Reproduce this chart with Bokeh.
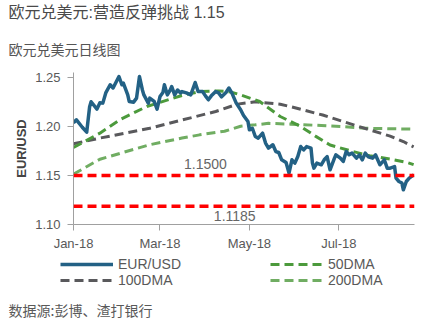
import pandas as pd
from bokeh.plotting import figure
from bokeh.layouts import column
from bokeh.models import (Range1d, FixedTicker, Label, Legend, LegendItem, Span, Title,
                          NumeralTickFormatter)
from bokeh.embed import file_html
from bokeh.resources import INLINE

# ---------------- data ----------------
eur_dates = ["2018-01-01", "2018-01-03", "2018-01-07", "2018-01-10", "2018-01-12", "2018-01-13",
             "2018-01-17", "2018-01-19", "2018-01-21", "2018-01-23", "2018-01-26", "2018-01-28",
             "2018-02-01", "2018-02-03", "2018-02-04", "2018-02-07", "2018-02-08", "2018-02-11",
             "2018-02-13", "2018-02-15", "2018-02-17", "2018-02-18", "2018-02-21", "2018-02-22",
             "2018-02-25", "2018-02-27", "2018-03-01", "2018-03-03", "2018-03-04", "2018-03-06",
             "2018-03-08", "2018-03-09", "2018-03-11", "2018-03-13", "2018-03-15", "2018-03-16",
             "2018-03-19", "2018-03-22", "2018-03-25", "2018-03-27", "2018-03-30", "2018-04-01",
             "2018-04-03", "2018-04-05", "2018-04-08", "2018-04-10", "2018-04-12", "2018-04-15",
             "2018-04-17", "2018-04-19", "2018-04-22", "2018-04-25", "2018-04-27", "2018-04-30",
             "2018-05-01", "2018-05-03", "2018-05-05", "2018-05-07", "2018-05-10", "2018-05-12",
             "2018-05-14", "2018-05-17", "2018-05-19", "2018-05-21", "2018-05-23", "2018-05-26",
             "2018-05-28", "2018-05-30", "2018-06-01", "2018-06-03", "2018-06-05", "2018-06-07",
             "2018-06-09", "2018-06-12", "2018-06-13", "2018-06-14", "2018-06-16", "2018-06-19",
             "2018-06-21", "2018-06-23", "2018-06-25", "2018-06-28", "2018-06-29", "2018-07-02",
             "2018-07-04", "2018-07-06", "2018-07-08", "2018-07-10", "2018-07-13", "2018-07-15",
             "2018-07-17", "2018-07-19", "2018-07-21", "2018-07-24", "2018-07-26", "2018-07-29",
             "2018-08-01", "2018-08-03", "2018-08-05", "2018-08-08", "2018-08-09", "2018-08-11",
             "2018-08-13", "2018-08-14", "2018-08-16", "2018-08-18", "2018-08-21"]
eur_values = [1.2035, 1.2066, 1.1990, 1.1940, 1.2200, 1.2250,
              1.2175, 1.2240, 1.2236, 1.2340, 1.2423, 1.2390,
              1.2507, 1.2423, 1.2440, 1.2320, 1.2253, 1.2246,
              1.2287, 1.2507, 1.2370, 1.2320, 1.2236, 1.2287,
              1.2253, 1.2175, 1.2303, 1.2344, 1.2423, 1.2320,
              1.2370, 1.2405, 1.2320, 1.2370, 1.2340, 1.2354,
              1.2340, 1.2320, 1.2446, 1.2354, 1.2354, 1.2310,
              1.2270, 1.2310, 1.2354, 1.2340, 1.2300, 1.2344,
              1.2390, 1.2340, 1.2236, 1.2168, 1.2110, 1.2049,
              1.1964, 1.1980, 1.1896, 1.1880, 1.1930, 1.1829,
              1.1778, 1.1812, 1.1743, 1.1733, 1.1659, 1.1631,
              1.1523, 1.1659, 1.1625, 1.1692, 1.1794, 1.1760,
              1.1794, 1.1778, 1.1625, 1.1574, 1.1625, 1.1608,
              1.1659, 1.1692, 1.1557, 1.1676, 1.1710, 1.1676,
              1.1642, 1.1743, 1.1710, 1.1727, 1.1676, 1.1710,
              1.1659, 1.1727, 1.1690, 1.1676, 1.1710, 1.1608,
              1.1659, 1.1574, 1.1574, 1.1590, 1.1473, 1.1438,
              1.1422, 1.1353, 1.1438, 1.1473, 1.1506]

dma50_dates = ["2018-01-01", "2018-01-19", "2018-02-02", "2018-02-20", "2018-03-16", "2018-03-28",
               "2018-04-10", "2018-04-18", "2018-04-25", "2018-05-08", "2018-05-22", "2018-06-05",
               "2018-06-15", "2018-06-25", "2018-07-09", "2018-07-22", "2018-08-05", "2018-08-17",
               "2018-08-21"]
dma50_values = [1.1784, 1.1930, 1.2070, 1.2202, 1.2314, 1.2354,
                1.2360, 1.2350, 1.2320, 1.2253, 1.2100, 1.1998,
                1.1900, 1.1810, 1.1750, 1.1700, 1.1666, 1.1630,
                1.1610]

dma100_dates = ["2018-01-01", "2018-01-19", "2018-02-22", "2018-03-15", "2018-04-08", "2018-04-23",
                "2018-05-05", "2018-05-22", "2018-05-29", "2018-06-20", "2018-07-13", "2018-08-05",
                "2018-08-14", "2018-08-21"]
dma100_values = [1.1822, 1.1880, 1.1980, 1.2060, 1.2151, 1.2226,
                 1.2250, 1.2225, 1.2200, 1.2115, 1.2005, 1.1900,
                 1.1845, 1.1790]

dma200_dates = ["2018-01-01", "2018-01-19", "2018-02-22", "2018-03-16", "2018-03-28", "2018-04-14",
                "2018-04-25", "2018-05-05", "2018-05-14", "2018-05-29", "2018-06-19", "2018-07-02",
                "2018-07-19", "2018-08-21"]
dma200_values = [1.1513, 1.1665, 1.1812, 1.1880, 1.1913, 1.1950,
                 1.2000, 1.2015, 1.2030, 1.2022, 1.2008, 1.1998,
                 1.1980, 1.1971]

level_values = [1.1500, 1.1185]
level_labels = ["1.1500", "1.1185"]
level_label_dates = ["2018-04-01", "2018-04-21"]
level_label_y = [1.1618, 1.1089]

x_tick_dates = ["2018-01-01", "2018-03-01", "2018-05-01", "2018-07-01"]
x_tick_labels = ["Jan-18", "Mar-18", "May-18", "Jul-18"]
y_ticks = [1.10, 1.15, 1.20, 1.25]

series_names = ["EUR/USD", "50DMA", "100DMA", "200DMA"]
series_colors = ["#236185", "#4c9a3c", "#59595c", "#70ad62"]

title_text = "欧元兑美元:营造反弹挑战 1.15"
subtitle_text = "欧元兑美元日线图"
source_text = "数据源:彭博、渣打银行"
y_label_text = "EUR/USD"

# ---------------- helpers ----------------
base = pd.Timestamp("2018-01-01")


def days(ds):
    return [(pd.Timestamp(d) - base).days for d in ds]


LAT = "'Liberation Sans', 'Noto Sans CJK SC'"
CJK = "'Noto Sans CJK SC'"
W = 424

# ---------------- main chart ----------------
p = figure(frame_width=341, frame_height=152, output_backend="svg", toolbar_location=None,
           x_range=Range1d(0, 232.6), y_range=Range1d(1.10, 1.2548),
           min_border_left=73, min_border_right=10, min_border_top=0, min_border_bottom=28)
p.outline_line_color = None
p.xgrid.visible = False
p.ygrid.visible = False
p.background_fill_color = "white"
p.border_fill_color = "white"

for ax in (p.xaxis[0], p.yaxis[0]):
    ax.axis_line_color = "#a0a0a0"
    ax.major_tick_line_color = "#a0a0a0"
    ax.minor_tick_line_color = None
    ax.major_tick_in = 0
    ax.major_tick_out = 6
    ax.major_label_text_color = "#595959"
    ax.major_label_text_font = "Liberation Sans"
    ax.major_label_text_font_size = "13px"

p.xaxis.ticker = FixedTicker(ticks=days(x_tick_dates))
p.xaxis.major_label_overrides = {d: l for d, l in zip(days(x_tick_dates), x_tick_labels)}
p.xaxis.major_label_standoff = 5
p.yaxis.ticker = FixedTicker(ticks=y_ticks)
p.yaxis.formatter = NumeralTickFormatter(format="0.00")
p.yaxis.major_label_standoff = 7
p.yaxis.axis_label = y_label_text
p.yaxis.axis_label_text_font = "Liberation Sans"
p.yaxis.axis_label_text_font_style = "bold"
p.yaxis.axis_label_text_font_size = "13px"
p.yaxis.axis_label_text_color = "#444444"
p.yaxis.axis_label_standoff = 3

for lv in level_values:
    p.add_layout(Span(location=lv, dimension="width", line_color="#ff0000",
                      line_width=3.5, line_dash="9 5"))
for t, d, yv in zip(level_labels, days(level_label_dates), level_label_y):
    p.add_layout(Label(x=d, y=yv, text=t, text_align="center", text_baseline="middle",
                       text_font_size="14px", text_color="#666666",
                       text_font="Liberation Sans"))

p.line(days(dma200_dates), dma200_values, line_color=series_colors[3], line_width=3,
       line_dash="9 5")
p.line(days(dma100_dates), dma100_values, line_color=series_colors[2], line_width=3,
       line_dash="9 5")
p.line(days(dma50_dates), dma50_values, line_color=series_colors[1], line_width=3,
       line_dash="9 5")
p.line(days(eur_dates), eur_values, line_color=series_colors[0], line_width=3.5,
       line_join="round")

# header titles (subtitle first: it sits nearest the frame)
p.add_layout(Title(text=subtitle_text, align="left", offset=-65, text_font=CJK,
                   text_font_size="14px", text_font_style="normal",
                   text_color="#555555", standoff=28), "above")
p.add_layout(Title(text=title_text, align="left", offset=-65, text_font=LAT,
                   text_font_size="16px", text_font_style="normal",
                   text_color="#4a4a4a", standoff=3), "above")

# ---------------- legend + source ----------------
BH = 72
bot = figure(width=W, height=BH, output_backend="svg", toolbar_location=None,
             x_range=Range1d(0, W), y_range=Range1d(0, BH),
             x_axis_type=None, y_axis_type=None,
             min_border_left=0, min_border_right=0, min_border_top=0, min_border_bottom=0)
bot.outline_line_color = None
bot.xgrid.visible = False
bot.ygrid.visible = False
bot.background_fill_color = "white"
bot.border_fill_color = "white"

dashes = ["solid", "9 5", "9 5", "9 5"]
widths = [3.5, 3, 3, 3]
items = []
nan = float("nan")
for name, c, dsh, lw in zip(series_names, series_colors, dashes, widths):
    r = bot.line(x=[nan, nan], y=[nan, nan], line_color=c, line_width=lw, line_dash=dsh)
    items.append(LegendItem(label=name, renderers=[r]))

legend = Legend(items=items, orientation="horizontal", ncols=2, location=(60, 37),
                glyph_width=53, glyph_height=14, label_height=14, label_standoff=5,
                label_width=152, spacing=0, padding=0, margin=0,
                border_line_alpha=0, background_fill_alpha=0,
                label_text_font_size="14px", label_text_color="#595959",
                label_text_font="Liberation Sans")
bot.add_layout(legend)
bot.add_layout(Label(x=8, y=BH - 56, text=source_text, text_font=CJK, text_font_size="14px",
                     text_color="#595959", text_baseline="middle"))

layout = column(p, column(bot), spacing=0)
open("out.html", "w").write(file_html(layout, INLINE))
